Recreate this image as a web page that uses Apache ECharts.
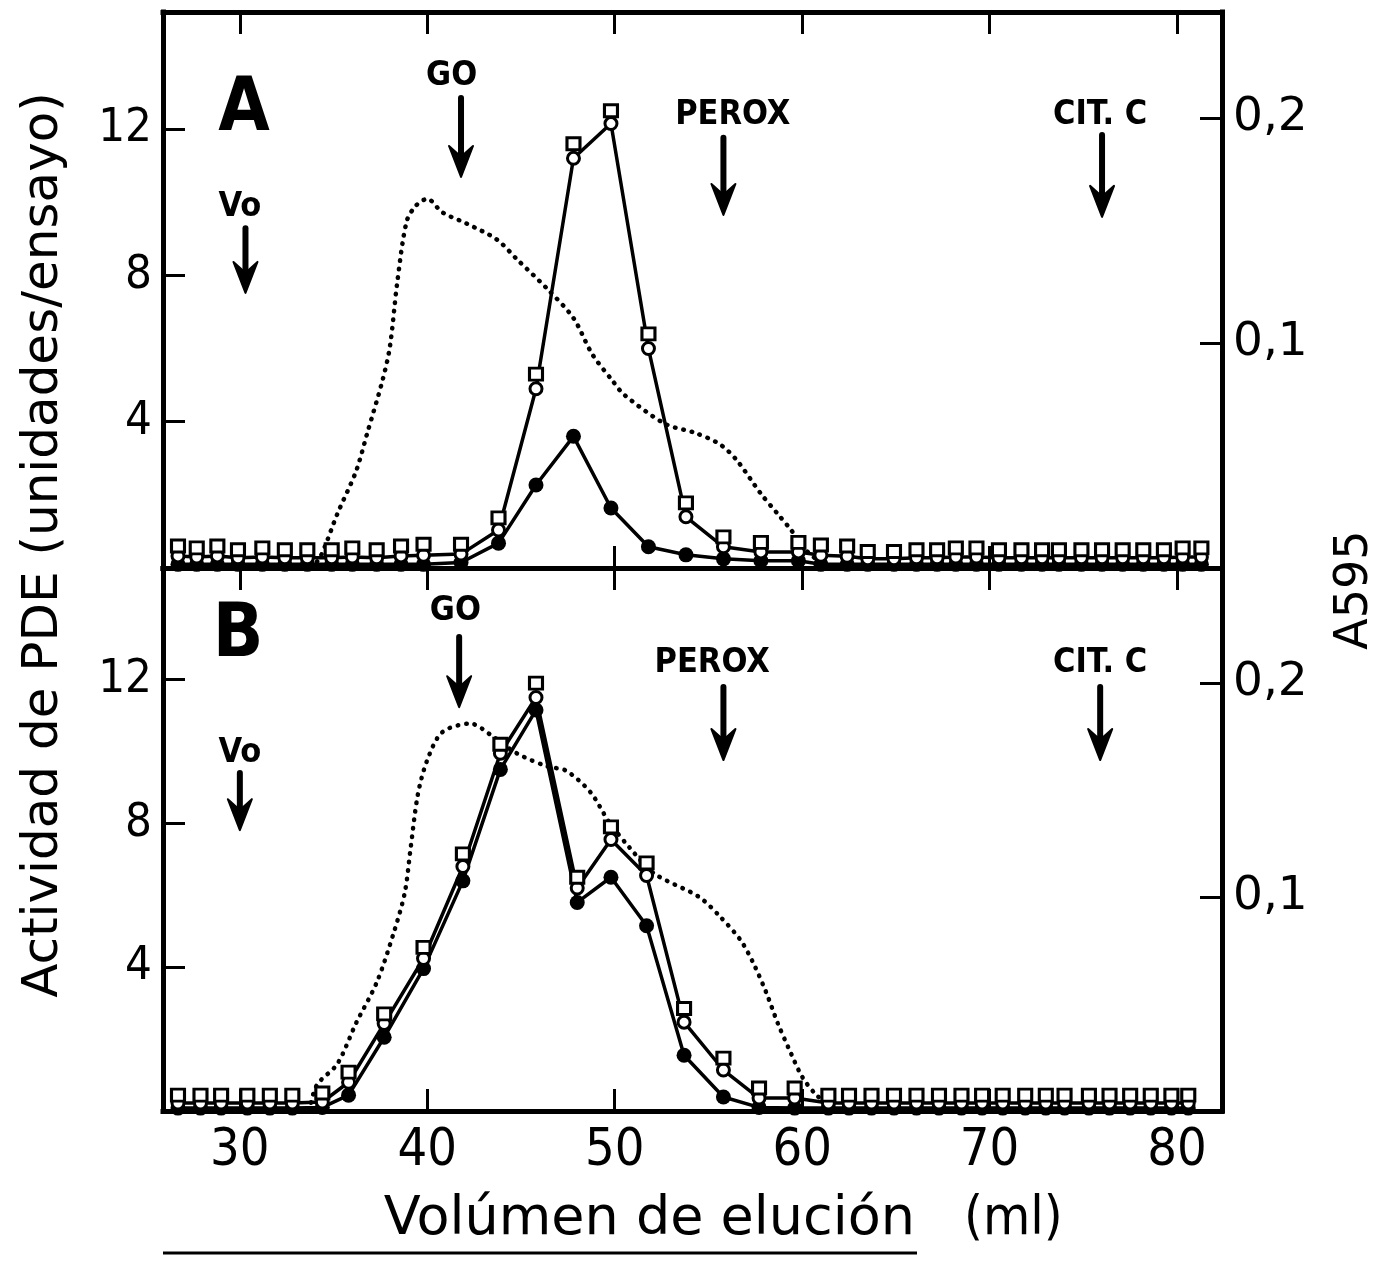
<!DOCTYPE html>
<html>
<head>
<meta charset="utf-8">
<script src="https://cdn.jsdelivr.net/npm/echarts@6/dist/echarts.min.js"></script>
<style>
  html, body { margin: 0; background: #fff; }
  #chart { width: 1386px; height: 1261px; }
</style>
</head>
<body>
<div id="chart"></div>
<script>
// ---- panel A data (elution volume, ml) ----
const volA = [26.7, 27.7, 28.8, 29.9, 31.2, 32.4, 33.6, 34.9, 36.0, 37.3, 38.6, 39.8,
  41.8, 43.8, 45.8, 47.8, 49.8, 51.8, 53.8, 55.8, 57.8, 59.8,
  61.0, 62.4, 63.5, 64.9, 66.1, 67.2, 68.2, 69.3, 70.5, 71.7, 72.8, 73.7, 74.9, 76.0, 77.1, 78.2, 79.3, 80.3, 81.3];
const squareA = [0.6, 0.55, 0.6, 0.5, 0.55, 0.5, 0.5, 0.5, 0.55, 0.5, 0.6, 0.65,
  0.65, 1.37, 5.3, 11.6, 12.5, 6.4, 1.78, 0.85, 0.7, 0.7,
  0.63, 0.6, 0.45, 0.45, 0.5, 0.5, 0.55, 0.55, 0.5, 0.5, 0.5, 0.5, 0.5, 0.5, 0.5, 0.5, 0.5, 0.55, 0.55];
const circleA = [0.33, 0.3, 0.33, 0.28, 0.3, 0.28, 0.28, 0.28, 0.3, 0.28, 0.33, 0.35,
  0.38, 1.04, 4.9, 11.2, 12.15, 6.0, 1.4, 0.58, 0.44, 0.44,
  0.35, 0.32, 0.25, 0.25, 0.28, 0.28, 0.3, 0.3, 0.28, 0.28, 0.28, 0.28, 0.28, 0.28, 0.28, 0.28, 0.28, 0.3, 0.3];
const filledA = [0.1, 0.1, 0.1, 0.1, 0.1, 0.1, 0.1, 0.1, 0.1, 0.1, 0.1, 0.1,
  0.15, 0.68, 2.27, 3.6, 1.64, 0.58, 0.36, 0.25, 0.2, 0.2,
  0.1, 0.1, 0.1, 0.1, 0.1, 0.1, 0.1, 0.1, 0.1, 0.1, 0.1, 0.1, 0.1, 0.1, 0.1, 0.1, 0.1, 0.1, 0.1];
const absVolA = [33.8, 34.3, 35.2, 36.2, 36.8, 37.6, 38.0, 38.4, 38.9, 39.4, 40.0, 40.8, 42.1, 43.7, 44.8,
  46.4, 47.8, 48.8, 49.9, 50.5, 52.7, 54.3, 55.6, 56.5, 57.8, 58.7, 59.4, 60.2, 60.9, 61.5];
const absA = [0, 0.005, 0.024, 0.043, 0.06, 0.083, 0.098, 0.127, 0.154, 0.161, 0.164, 0.158, 0.153, 0.146, 0.137,
  0.124, 0.111, 0.095, 0.083, 0.077, 0.064, 0.06, 0.055, 0.048, 0.033, 0.024, 0.017, 0.008, 0.003, 0];

// ---- panel B data ----
const volB = [26.7, 27.9, 29.0, 30.4, 31.6, 32.8, 34.4,
  35.8, 37.7, 39.8, 41.9, 43.9, 45.8, 48.0, 49.8, 51.7, 53.7, 55.8, 57.7, 59.6,
  61.4, 62.5, 63.7, 64.9, 66.1, 67.3, 68.5, 69.6, 70.7, 71.9, 73.0, 74.0, 75.3, 76.4, 77.5, 78.6, 79.7, 80.6];
const squareB = [0.44, 0.44, 0.44, 0.44, 0.44, 0.44, 0.5,
  1.08, 2.7, 4.55, 7.15, 10.2, 11.9, 6.5, 7.9, 6.9, 2.85, 1.47, 0.64, 0.64,
  0.44, 0.44, 0.44, 0.44, 0.44, 0.44, 0.44, 0.44, 0.44, 0.44, 0.44, 0.44, 0.44, 0.44, 0.44, 0.44, 0.44, 0.44];
const circleB = [0.22, 0.22, 0.22, 0.22, 0.22, 0.22, 0.25,
  0.8, 2.43, 4.24, 6.8, 9.95, 11.5, 6.2, 7.55, 6.55, 2.47, 1.14, 0.36, 0.36,
  0.22, 0.22, 0.22, 0.22, 0.22, 0.22, 0.22, 0.22, 0.22, 0.22, 0.22, 0.22, 0.22, 0.22, 0.22, 0.22, 0.22, 0.22];
const filledB = [0.08, 0.08, 0.08, 0.08, 0.08, 0.08, 0.1,
  0.44, 2.05, 3.96, 6.4, 9.5, 11.15, 5.8, 6.5, 5.15, 1.55, 0.39, 0.1, 0.08,
  0.08, 0.08, 0.08, 0.08, 0.08, 0.08, 0.08, 0.08, 0.08, 0.08, 0.08, 0.08, 0.08, 0.08, 0.08, 0.08, 0.08, 0.08];
const absVolB = [33.7, 34.1, 35.2, 36.2, 37.3, 38.2, 38.8, 39.1, 39.5, 40.0, 40.8, 42.3, 43.5, 44.8, 46.4,
  47.4, 48.7, 49.7, 50.8, 52.1, 54.5, 55.6, 56.7, 57.4, 58.1, 58.7, 59.4, 60.0, 60.7, 61.4, 62.0];
const absB = [0, 0.012, 0.022, 0.041, 0.06, 0.083, 0.102, 0.122, 0.148, 0.164, 0.177, 0.181, 0.175, 0.167, 0.161,
  0.159, 0.149, 0.135, 0.123, 0.111, 0.1, 0.091, 0.08, 0.069, 0.055, 0.041, 0.027, 0.016, 0.008, 0.003, 0];

// ---- marker proteins (arrows), values in left-axis units ----
const markerNames = ['Vo', 'GO', 'PEROX', 'CIT. C'];
const arrowVolA = [30.3, 41.8, 55.8, 76.0];
const arrowTopA = [9.29, 12.85, 11.76, 11.84];
const arrowTipA = [7.52, 10.69, 9.65, 9.6];
const textVolA = [30.0, 41.3, 56.3, 75.9];
const textYA = [9.87, 13.45, 12.38, 12.38];
const arrowVolB = [30.0, 41.7, 55.8, 75.9];
const arrowTopB = [9.4, 13.18, 11.79, 11.79];
const arrowTipB = [7.81, 11.23, 9.76, 9.76];
const textVolB = [30.0, 41.5, 55.2, 75.9];
const textYB = [9.96, 13.9, 12.46, 12.46];

// ---- ticks ----
const xTicks = [30, 40, 50, 60, 70, 80];
const leftTicks = [4, 8, 12];
const rightTicks = [0.1, 0.2];

const FONT = "'DejaVu Sans', sans-serif";
const COND = "'DejaVu Sans Condensed', 'DejaVu Sans', sans-serif";

const axisLine = { show: true, onZero: false, lineStyle: { color: '#000', width: 5, cap: 'square' } };

function xAxisFor(grid, position, showLabel) {
  return {
    type: 'value', gridIndex: grid, position: position, min: 25.9, max: 82.4,
    axisLine: axisLine,
    axisTick: { show: true, inside: true, length: 22, customValues: xTicks, lineStyle: { color: '#000', width: 3 } },
    axisLabel: { show: showLabel, customValues: xTicks, color: '#000', fontFamily: COND, fontSize: 52, margin: 14 },
    splitLine: { show: false }
  };
}

function yAxisFor(grid, position, max, ticks, font, fmt) {
  return {
    type: 'value', gridIndex: grid, position: position, min: 0, max: max,
    axisLine: axisLine,
    axisTick: { show: true, inside: true, length: 22, customValues: ticks, lineStyle: { color: '#000', width: 3 } },
    axisLabel: { show: true, customValues: ticks, color: '#000', fontFamily: font, fontSize: 47, margin: 11, formatter: fmt },
    splitLine: { show: false }
  };
}

const comma = v => String(v).replace('.', ',');

function pair(xs, ys) { return xs.map((x, i) => [x, ys[i]]); }

function panelSeries(p, vol, sq, ci, fi, absVol, abs, aVol, aTop, aTip, tVol, tY) {
  const xa = p * 2, yl = p * 2, yr = p * 2 + 1;
  return [
    {
      type: 'line', xAxisIndex: xa, yAxisIndex: yr, data: pair(absVol, abs),
      showSymbol: false, smooth: 0.3, z: 2,
      lineStyle: { color: '#000', width: 4.5, type: [0.5, 8], cap: 'round' }
    },
    {
      type: 'line', xAxisIndex: xa, yAxisIndex: yl, data: pair(vol, fi), z: 3,
      symbol: 'circle', symbolSize: 15, itemStyle: { color: '#000' },
      lineStyle: { color: '#000', width: 3.5 }
    },
    {
      type: 'line', xAxisIndex: xa, yAxisIndex: yl, data: pair(vol, ci), z: 4,
      symbol: 'circle', symbolSize: 12,
      itemStyle: { color: '#fff', borderColor: '#000', borderWidth: 3 },
      lineStyle: { color: '#000', width: 3.5 }
    },
    {
      type: 'scatter', xAxisIndex: xa, yAxisIndex: yl, data: pair(vol, sq), z: 5,
      symbol: 'rect', symbolSize: [13, 12],
      itemStyle: { color: '#fff', borderColor: '#000', borderWidth: 3, opacity: 1 }
    },
    {
      type: 'custom', xAxisIndex: xa, yAxisIndex: yl, z: 6, silent: true,
      data: markerNames.map((n, i) => [aVol[i], aTop[i], aTip[i], tVol[i], tY[i], i]),
      renderItem: (params, api) => {
        const top = api.coord([api.value(0), api.value(1)]);
        const tip = api.coord([api.value(0), api.value(2)]);
        const txt = api.coord([api.value(3), api.value(4)]);
        const x = tip[0], y = tip[1];
        return {
          type: 'group', children: [
            { type: 'line', shape: { x1: top[0], y1: top[1], x2: x, y2: y - 12 },
              style: { stroke: '#000', lineWidth: 6, lineCap: 'round' } },
            { type: 'polygon', shape: { points: [[x, y], [x - 12, y - 31], [x - 2, y - 22], [x + 2, y - 22], [x + 12, y - 31]] },
              style: { fill: '#000', stroke: '#000', lineWidth: 2, lineJoin: 'round' } },
            { type: 'text', x: txt[0], y: txt[1],
              style: { text: markerNames[api.value(5)], fontFamily: COND, fontWeight: 'bold', fontSize: 34,
                fill: '#000', align: 'center', verticalAlign: 'middle' } }
          ]
        };
      }
    }
  ];
}

const chart = echarts.init(document.getElementById('chart'));
chart.setOption({
  animation: false,
  backgroundColor: '#fff',
  grid: [
    { left: 163, right: 164, top: 12, height: 556 },
    { left: 163, right: 164, top: 568, height: 543 }
  ],
  xAxis: [
    xAxisFor(0, 'bottom', false),
    xAxisFor(0, 'top', false),
    xAxisFor(1, 'bottom', true),
    xAxisFor(1, 'top', false)
  ],
  yAxis: [
    yAxisFor(0, 'left', 15.2, leftTicks, COND),
    yAxisFor(0, 'right', 0.247, rightTicks, FONT, comma),
    yAxisFor(1, 'left', 15.1, leftTicks, COND),
    yAxisFor(1, 'right', 0.2537, rightTicks, FONT, comma)
  ],
  graphic: [
    { type: 'text', x: 44, y: 545, rotation: Math.PI / 2,
      style: { text: 'Actividad de PDE (unidades/ensayo)', fontFamily: FONT, fontSize: 50, fill: '#000', align: 'center', verticalAlign: 'middle' } },
    { type: 'text', x: 1355, y: 590, rotation: Math.PI / 2,
      style: { text: 'A595', fontFamily: FONT, fontSize: 46, fill: '#000', align: 'center', verticalAlign: 'middle' } },
    { type: 'text', x: 915, y: 1220,
      style: { text: 'Volúmen de elución', fontFamily: FONT, fontSize: 54, fill: '#000', align: 'right', verticalAlign: 'middle' } },
    { type: 'text', x: 964, y: 1220,
      style: { text: '(ml)', fontFamily: COND, fontSize: 54, fill: '#000', align: 'left', verticalAlign: 'middle' } },
    { type: 'line', shape: { x1: 163, y1: 1253, x2: 917, y2: 1253 }, style: { stroke: '#000', lineWidth: 3 } },
    { type: 'text', x: 244, y: 111,
      style: { text: 'A', fontFamily: COND, fontWeight: 'bold', fontSize: 74, fill: '#000', align: 'center', verticalAlign: 'middle' } },
    { type: 'text', x: 238, y: 637,
      style: { text: 'B', fontFamily: COND, fontWeight: 'bold', fontSize: 74, fill: '#000', align: 'center', verticalAlign: 'middle' } }
  ],
  series: [
    ...panelSeries(0, volA, squareA, circleA, filledA, absVolA, absA, arrowVolA, arrowTopA, arrowTipA, textVolA, textYA),
    ...panelSeries(1, volB, squareB, circleB, filledB, absVolB, absB, arrowVolB, arrowTopB, arrowTipB, textVolB, textYB)
  ]
});
</script>
</body>
</html>
